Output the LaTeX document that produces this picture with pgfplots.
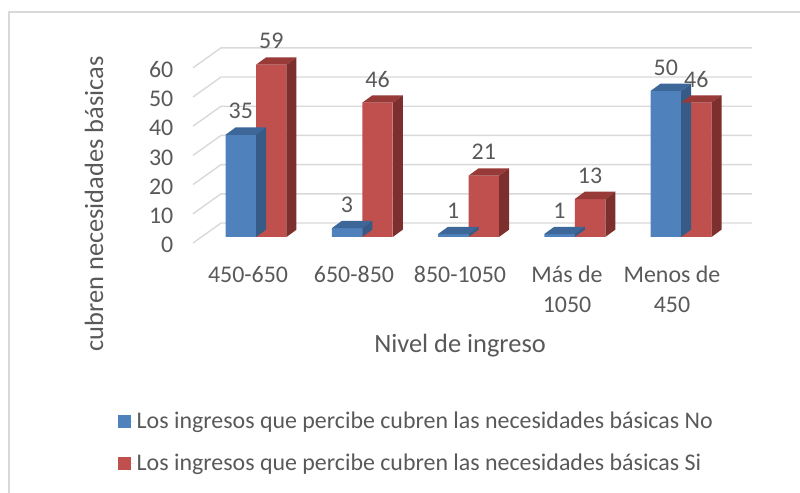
\documentclass[border=0pt]{standalone}
\usepackage{pgfplots}
\pgfplotsset{compat=1.18}
\usepackage{pgfplotstable}
\usepackage{fontspec}
\setmainfont{Carlito}
\definecolor{txt}{HTML}{595959}
\definecolor{gridc}{HTML}{D9D9D9}
\definecolor{bluef}{HTML}{4F81BD}
\definecolor{bluet}{HTML}{3D6699}
\definecolor{blues}{HTML}{375B87}
\definecolor{redf}{HTML}{C0504D}
\definecolor{redt}{HTML}{983A38}
\definecolor{reds}{HTML}{7D2F2D}
\newcommand\fsA{\fontsize{24}{29.5}\selectfont}
\newcommand\fsB{\fontsize{26.5}{32}\selectfont}
\newcommand\twoline[2]{\begin{tabular}[t]{@{}c@{}}#1\\#2\end{tabular}}

\pgfdeclareplotmark{bartop}{%
  \pgfpathmoveto{\pgfpoint{-15.25bp}{0bp}}%
  \pgfpathlineto{\pgfpoint{15.25bp}{0bp}}%
  \pgfpathlineto{\pgfpoint{25.25bp}{7.3bp}}%
  \pgfpathlineto{\pgfpoint{-5.25bp}{7.3bp}}%
  \pgfpathclose
  \pgfusepathqfill
}
\pgfdeclareplotmark{barside}{%
  \pgfpathmoveto{\pgfpoint{15.25bp}{0bp}}%
  \pgfpathlineto{\pgfpoint{25.25bp}{7.3bp}}%
  \pgfpathlineto{\pgfpoint{25.25bp}{7.3bp-\rawy*2.92bp}}%
  \pgfpathlineto{\pgfpoint{15.25bp}{-\rawy*2.92bp}}%
  \pgfpathclose
  \pgfusepathqfill
}

\pgfplotstableread{
x no si
0 35 59
1 3  46
2 1  21
3 1  13
4 50 46
}\datatable

\begin{document}
\begin{tikzpicture}
\begin{axis}[
  width=800bp, height=493bp, scale only axis,
  xmin=-2.4094, xmax=5.1200, ymin=-87.671, ymax=81.164,
  axis line style={draw=none}, tick style={draw=none}, major tick length=0pt,
  clip=false,
  /pgf/number format/assume math mode=true,
  font=\fsA,
  xtick={-0.075,0.922,1.920,2.927,3.915},
  xticklabels={450-650,650-850,850-1050,{\twoline{Más de}{1050}},{\twoline{Menos de}{450}}},
  xticklabel style={anchor=base, yshift=210bp, inner sep=0pt, font=\fsA, text=txt},
  ytick={-2.74,7.26,17.26,27.26,37.26,47.26,57.26},
  yticklabels={0,10,20,30,40,50,60},
  yticklabel style={anchor=east, xshift=173.5bp, inner sep=0pt, font=\fsA, text=txt},
  xlabel={Nivel de ingreso},
  xlabel style={at={(axis cs:1.92,-39.7)}, anchor=base, font=\fsB, text=txt},
  ylabel={cubren necesidades básicas},
  ylabel style={at={(axis cs:-1.44,11.3)}, anchor=base, rotate=0, font=\fsB, text=txt},
  legend style={at={(rel axis cs:0.1475,0.1684)}, anchor=north west, draw=none, fill=none,
    inner sep=0pt, font=\fsA, text=txt, row sep=20bp, cells={anchor=west}},
  legend cell align=left,
  legend image code/.code={\fill[#1, draw=none] (0bp,-6.5bp) rectangle (12.5bp,6.5bp);
    \path (0bp,0bp) -- (16.5bp,0bp);},
  every node near coord/.append style={anchor=center, yshift=23.5bp, font=\fsA, text=txt, inner sep=0pt},
]
% frame
\draw[gridc, line width=1.6bp] (rel axis cs:0.0109,0) -- (rel axis cs:0.0109,0.9757) -- (rel axis cs:1,0.9757);
% gridlines (back wall + side wall)
\addplot[gridc, line width=1.4bp, unbounded coords=jump, forget plot] coordinates {
 (-0.593,-2.05) (-0.329,4.79) (4.668,4.79) (nan,nan)
 (-0.593,7.95) (-0.329,14.79) (4.668,14.79) (nan,nan)
 (-0.593,17.95) (-0.329,24.79) (4.668,24.79) (nan,nan)
 (-0.593,27.95) (-0.329,34.79) (4.668,34.79) (nan,nan)
 (-0.593,37.95) (-0.329,44.79) (4.668,44.79) (nan,nan)
 (-0.593,47.95) (-0.329,54.79) (4.668,54.79) (nan,nan)
 (-0.593,57.95) (-0.329,64.79) (4.668,64.79)
};
% blue series
\addplot[ybar, bar width=0.287, bar shift=-0.1435, fill=bluef, draw=none, nodes near coords,
  every node near coord/.append style={xshift=-15.25bp}]
  table[x=x, y=no]{\datatable};
\addlegendentry{Los ingresos que percibe cubren las necesidades básicas No}
\addplot[only marks, mark=bartop, color=bluet, forget plot]
  table[x expr=\thisrow{x}-0.1435, y=no]{\datatable};
\addplot[only marks, mark=barside, color=blues, forget plot, visualization depends on={rawy\as\rawy}]
  table[x expr=\thisrow{x}-0.1435, y=no]{\datatable};
% red series
\addplot[ybar, bar width=0.287, bar shift=0.1435, fill=redf, draw=none, nodes near coords,
  every node near coord/.append style={xshift=15.25bp}]
  table[x=x, y=si]{\datatable};
\addlegendentry{Los ingresos que percibe cubren las necesidades básicas Si}
\addplot[only marks, mark=bartop, color=redt, forget plot]
  table[x expr=\thisrow{x}+0.1435, y=si]{\datatable};
\addplot[only marks, mark=barside, color=reds, forget plot, visualization depends on={rawy\as\rawy}]
  table[x expr=\thisrow{x}+0.1435, y=si]{\datatable};
\end{axis}
\pgfresetboundingbox
\path (current axis.south west) rectangle (current axis.north east);
\end{tikzpicture}
\end{document}
